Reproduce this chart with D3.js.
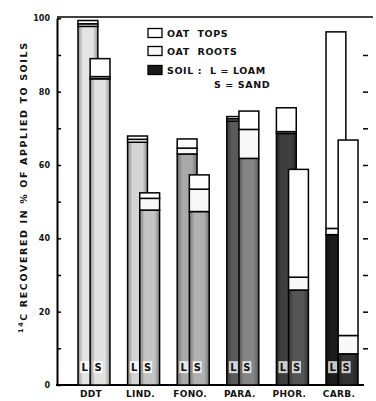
<!DOCTYPE html>
<html>
<head>
<meta charset="utf-8">
<script src="https://cdn.jsdelivr.net/npm/d3@7"></script>
<style>
  body { margin: 0; background: #fff; }
  text { font-family: "DejaVu Sans", sans-serif; font-weight: bold; fill: #111; }
</style>
</head>
<body>
<div id="chart"></div>
<script>
// datos
var compounds = ["DDT", "LIND.", "FONO.", "PARA.", "PHOR.", "CARB."];
var soilL  = [97.8, 66.2, 63.0, 72.0, 68.6, 41.0];
var rootsL = [0.7, 0.8, 1.6, 0.6, 0.5, 1.7];
var topsL  = [0.9, 0.9, 2.5, 0.6, 6.5, 53.6];
var soilS  = [83.5, 47.7, 47.3, 61.8, 25.9, 8.5];
var rootsS = [0.6, 3.2, 6.1, 7.9, 3.5, 5.0];
var topsS  = [4.9, 1.5, 3.9, 5.0, 29.4, 53.3];
var yTicks = [0, 20, 40, 60, 80, 100];
var legendLabels = ["OAT  TOPS", "OAT  ROOTS", "SOIL :  L = LOAM"];

// tono del suelo (estilo, no datos)
var shadeL = ["#e4e4e4", "#d4d4d4", "#a9a9a9", "#5a5a5a", "#3e3e3e", "#1c1c1c"];
var shadeS = ["#e2e2e2", "#c4c4c4", "#b0b0b0", "#858585", "#555555", "#333333"];

var width = 376, height = 401;
var svg = d3.select("#chart").append("svg")
    .attr("width", width)
    .attr("height", height);

var y = d3.scaleLinear().domain([0, 100]).range([385, 18.3]);
var x = d3.scaleBand()
    .domain(compounds)
    .range([64.1, 371.9])
    .paddingInner(0.355)
    .paddingOuter(0.28);

var barW = x.bandwidth() * 0.62;
var offS = x.bandwidth() - barW;

// gradientes para imitar el tramado
var defs = svg.append("defs");
function grad(id, c) {
    var g = defs.append("linearGradient").attr("id", id);
    var dark = d3.color(c).darker(1.2);
    g.append("stop").attr("offset", "0%").attr("stop-color", dark);
    g.append("stop").attr("offset", "25%").attr("stop-color", c);
    g.append("stop").attr("offset", "75%").attr("stop-color", c);
    g.append("stop").attr("offset", "100%").attr("stop-color", dark);
}
compounds.forEach(function(c, i) {
    grad("gL" + i, shadeL[i]);
    grad("gS" + i, shadeS[i]);
});

// ejes
var left = d3.axisLeft(y)
    .tickValues(d3.range(0, 101, 10))
    .tickSize(-4)
    .tickSizeOuter(0)
    .tickPadding(7)
    .tickFormat(function(d) { return yTicks.indexOf(d) >= 0 ? d : ""; });

var gl = svg.append("g").attr("transform", "translate(57,0)").call(left);
gl.select(".domain").attr("stroke-width", 2);
gl.selectAll(".tick line").attr("stroke-width", 1.5);
gl.selectAll("text").style("font-size", "8px");

var right = d3.axisRight(y)
    .tickValues(d3.range(10, 91, 10))
    .tickSize(5)
    .tickFormat("");
var gr = svg.append("g").attr("transform", "translate(363,0)").call(right);
gr.select(".domain").remove();
gr.selectAll(".tick line").attr("stroke-width", 1.5);

svg.append("line")
    .attr("x1", 57).attr("x2", 373)
    .attr("y1", y(100) - 1.3).attr("y2", y(100) - 1.3)
    .attr("stroke", "#000").attr("stroke-width", 1.5);
svg.append("line")
    .attr("x1", 56).attr("x2", 364)
    .attr("y1", y(0)).attr("y2", y(0))
    .attr("stroke", "#000").attr("stroke-width", 2.2);

// barras apiladas
function stackBar(i, soil, roots, tops, xs, fillId) {
    var segs = [
        { y0: 0, y1: soil[i], fill: "url(#" + fillId + i + ")" },
        { y0: soil[i], y1: soil[i] + roots[i], fill: "#f8f8f8" },
        { y0: soil[i] + roots[i], y1: soil[i] + roots[i] + tops[i], fill: "#fff" }
    ];
    svg.append("g").selectAll("rect")
        .data(segs)
        .enter()
        .append("rect")
        .attr("x", xs)
        .attr("width", barW)
        .attr("y", function(d) { return y(d.y1); })
        .attr("height", function(d) { return y(d.y0) - y(d.y1); })
        .attr("fill", function(d) { return d.fill; })
        .attr("stroke", "#000")
        .attr("stroke-width", 1.5);
}

compounds.forEach(function(c, i) {
    stackBar(i, soilL, rootsL, topsL, x(c), "gL");
    stackBar(i, soilS, rootsS, topsS, x(c) + offS, "gS");

    // letras L / S
    var lx = x(c) + offS / 2 + 0.5;
    var sx = x(c) + offS + barW / 2 - 2;
    [[lx, "L"], [sx, "S"]].forEach(function(p) {
        svg.append("rect")
            .attr("x", p[0] - 4.5).attr("y", y(6.5))
            .attr("width", 9).attr("height", 12)
            .attr("fill", "#fff").attr("opacity", 0.75);
        svg.append("text")
            .attr("x", p[0]).attr("y", y(6.5) + 10)
            .attr("text-anchor", "middle")
            .style("font-size", "10px")
            .text(p[1]);
    });

    svg.append("text")
        .attr("x", x(c) + x.bandwidth() / 2 - 3)
        .attr("y", 397)
        .attr("text-anchor", "middle")
        .style("font-size", "9px")
        .style("letter-spacing", "0.3px")
        .text(c);
});

// leyenda
var legFill = ["#fff", "#f8f8f8", "#1a1a1a"];
var legY = [33, 51, 70];
legendLabels.forEach(function(t, i) {
    svg.append("rect")
        .attr("x", 148).attr("y", legY[i] - 4.5)
        .attr("width", 14).attr("height", 9)
        .attr("fill", legFill[i])
        .attr("stroke", "#000").attr("stroke-width", 1.3);
    svg.append("text")
        .attr("x", 167).attr("y", legY[i] + 4)
        .style("font-size", "9.5px")
        .style("letter-spacing", "0.6px")
        .attr("xml:space", "preserve")
        .text(t);
});
svg.append("text")
    .attr("x", 214).attr("y", 88)
    .style("font-size", "9.5px")
    .style("letter-spacing", "0.6px")
    .attr("xml:space", "preserve")
    .text("S = SAND");

// titulo eje y
var yl = svg.append("text")
    .attr("transform", "translate(26,188) rotate(-90)")
    .attr("text-anchor", "middle")
    .attr("textLength", 290)
    .attr("lengthAdjust", "spacing")
    .style("font-size", "9.5px");
yl.append("tspan").attr("dy", "-0.4em").style("font-size", "6.5px").text("14");
yl.append("tspan").attr("dy", "0.4em").text("C  RECOVERED  IN  %  OF  APPLIED  TO  SOILS");
</script>
</body>
</html>
